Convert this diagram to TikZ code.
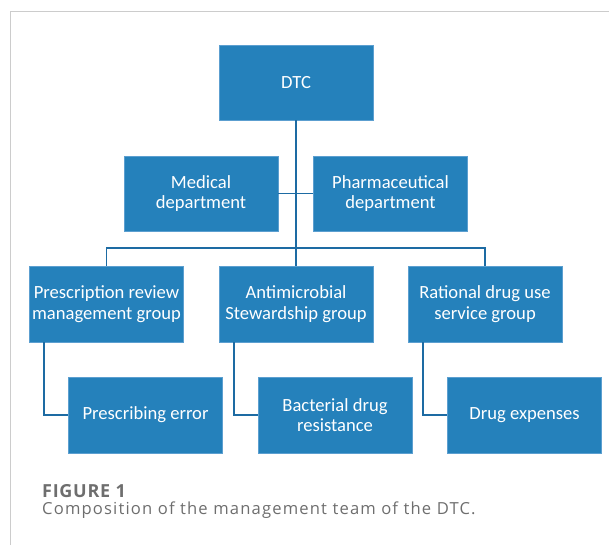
\documentclass[tikz,border=0pt]{standalone}
\usepackage{fontspec}
\setmainfont{Carlito}
\newfontfamily\capfont[LetterSpace=7]{Open Sans}
\newfontfamily\labfont[LetterSpace=4]{Open Sans}
\usetikzlibrary{positioning}

\definecolor{boxblue}{HTML}{2581BB}
\definecolor{boxedge}{HTML}{5C9FD0}
\definecolor{linkblue}{HTML}{1D6BA3}
\definecolor{capgray}{HTML}{6E6E6E}
\definecolor{framegray}{HTML}{CCCCCC}

\begin{document}
\begin{tikzpicture}[x=1pt,y=-1pt]

\tikzset{%
    unit/.style={draw=boxedge,thin,fill=boxblue,text=white,minimum width=\boxw pt,minimum height=\boxh pt,inner sep=0pt,align=center,font=\fontsize{18.6}{20.7}\selectfont},
    link/.style={draw=linkblue,line width=1.8pt},
}

\def\boxw{154}
\def\boxh{76}

\def\busy{248}
\def\elbx{15}

% page
\useasboundingbox (0,0) rectangle (609,545);
\draw [framegray,line width=1pt] (10,545) -- (10,12) -- (609,12);

% boxes
\node [unit, minimum height=75pt] (dtc) at (296,82.5) {DTC};

\node [unit, minimum height=75pt] (med) at (201,193.5) {Medical\\department};
\node [unit, minimum height=75pt] (pharm) at (390.5,193.5) {Pharmaceutical\\department};

\node [unit] (presc) at (106.5,304) {Prescription review\\management group};
\node [unit] (amr) at (296,304) {Antimicrobial\\Stewardship group};
\node [unit] (rat) at (485,304) {Rational drug use\\service group};

\node [unit] (err) at (145.5,415) {Prescribing error};
\node [unit] (bact) at (335,415) {Bacterial drug\\resistance};
\node [unit] (exp) at (524.5,415) {Drug expenses};

% lines
\coordinate (bus) at (296,\busy);
\draw [link] (dtc) -- (amr);
\draw [link] (med) -- (pharm);
\draw [link] (presc.north) |- (bus) -| (rat.north);

\draw [link] ([xshift=\elbx pt]presc.south west) |- (err.west);
\draw [link] ([xshift=\elbx pt]amr.south west) |- (bact.west);
\draw [link] ([xshift=\elbx pt]rat.south west) |- (exp.west);

% caption
\node [anchor=base west, inner sep=0pt, text=capgray, font=\labfont\bfseries\fontsize{18}{20}\selectfont] (figlabel) at (42,497) {FIGURE 1};
\node [anchor=base west, inner sep=0pt, text=capgray, font=\capfont\fontsize{16.6}{19}\selectfont] (figtext) at (42,514) {Composition of the management team of the DTC.};

\end{tikzpicture}
\end{document}
